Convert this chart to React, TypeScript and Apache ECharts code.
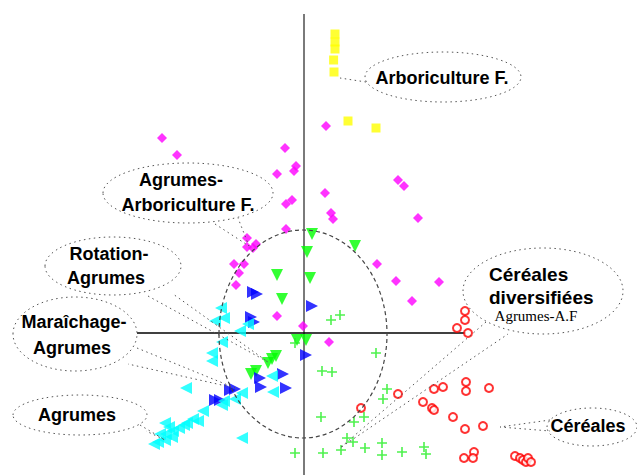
import React, { useEffect, useRef } from "react";
import * as echarts from "echarts";

// ---- data (x, y in factorial-plane units; origin = axes crossing) ----
const arboriculture: number[][] = [
  [1.55, 14.95], [1.55, 14.55], [1.55, 14.2], [1.48, 13.65], [1.5, 13.05], [2.2, 10.6], [3.6, 10.25],
];
const agrumesArbo: number[][] = [
  [-7.1, 9.75], [-6.35, 8.9], [-0.95, 9.25], [-1.35, 7.95], [-0.4, 8.35], [-0.5, 8.1], [-0.6, 6.65],
  [-0.9, 6.45], [-0.9, 5.2], [-2.85, 4.75], [-2.85, 4.3], [-2.55, 4.25], [-2.4, 4.45], [1.1, 10.35],
  [1.05, 7.0], [1.35, 6.0], [1.45, 5.7], [4.7, 7.65], [5.0, 7.35], [5.7, 5.75], [-3.5, 3.45],
  [-3.0, 3.45], [-3.25, 3.0], [-3.4, 2.4], [-1.35, 0.85], [-0.05, 0.35], [3.65, 3.45], [4.6, 2.6],
  [6.75, 2.55], [5.4, 1.6], [1.25, -0.45],
];
const maraichage: number[][] = [
  [0.4, 4.95], [0.15, 4.05], [2.55, 4.35], [-1.35, 2.9], [0.3, 2.75], [-1.1, 1.7], [-0.35, -0.35],
  [0.1, -0.35], [-1.4, -1.15], [-1.6, -1.3], [-1.8, -1.5], [-2.4, -1.9], [-2.65, -2.05],
];
const cerealesDiv: number[][] = [
  [1.35, 0.65], [1.8, 0.9], [-0.45, -0.5], [3.6, -1.0], [0.9, -1.9], [1.4, -1.95], [4.15, -2.8],
  [3.95, -3.3], [0.85, -4.2], [2.5, -4.45], [3.0, -4.2], [2.15, -5.25], [2.45, -5.45], [-0.45, -6.0],
  [0.95, -6.0], [1.85, -5.85], [3.05, -5.75], [3.9, -5.5], [3.9, -6.1], [4.9, -5.95], [6.0, -5.7],
  [6.1, -6.05],
];
const cereales: number[][] = [
  [8.05, 1.1], [8.05, 0.65], [7.65, 0.25], [8.2, 0.0], [4.7, -3.05], [2.85, -3.75], [6.5, -2.8],
  [6.95, -2.7], [8.1, -2.45], [8.1, -2.9], [9.25, -2.75], [5.95, -3.45], [6.4, -3.75], [6.5, -3.85],
  [7.45, -4.2], [8.05, -4.8], [8.95, -4.65], [8.0, -6.25], [8.5, -5.95], [8.45, -6.25], [10.55, -6.15],
  [10.8, -6.25], [10.95, -6.35], [11.1, -6.45], [11.2, -6.25], [11.35, -6.45],
];
const rotation: number[][] = [
  [-2.55, 2.05], [-2.35, 1.95], [0.4, 1.35], [-2.65, 0.8], [-2.5, 0.55], [0.1, -1.1], [-3.7, -2.85],
  [-3.45, -2.8], [-4.45, -3.35], [-4.2, -3.35], [-2.2, -2.25], [-2.15, -2.7], [-1.05, -2.05], [-0.9, -2.75],
];
const agrumes: number[][] = [
  [-4.15, 1.25], [-4.0, 0.75], [-4.45, 0.6], [-3.2, 0.1], [-2.8, 0.45], [-4.1, -0.45], [-4.6, -1.0],
  [-4.6, -1.4], [-5.9, -2.75], [-3.1, -3.0], [-3.45, -3.3], [-4.1, -3.6], [-4.0, -3.4], [-5.05, -3.9],
  [-5.55, -4.3], [-5.3, -4.4], [-1.6, -2.15], [-1.55, -2.95], [-3.1, -5.25], [-6.95, -4.5],
  [-6.75, -4.7], [-7.2, -5.05], [-6.9, -5.05], [-6.55, -4.9], [-6.25, -4.75], [-6.0, -4.6],
  [-7.3, -5.45], [-6.95, -5.35], [-6.6, -5.2], [-7.5, -5.55], [-5.85, -4.5],
];
const hAxisLine: number[][] = [[-8.35, 0], [8.1, 0]];
const vAxisLine: number[][] = [[0, 15.95], [0, -7.1]];

const labelFont = 'bold 18px "Liberation Sans", Arial, sans-serif';
const PLUS = "path://M4.2,0H5.8V4.2H10V5.8H5.8V10H4.2V5.8H0V4.2H4.2Z";

export default function App() {
  const ref = useRef<HTMLDivElement>(null);
  useEffect(() => {
    if (!ref.current) return;
    const chart = echarts.init(ref.current, undefined, { renderer: "svg" });
    const dot = { fill: "none", stroke: "#555", lineWidth: 1, lineDash: [1.5, 3.5] };
    const txt = (x: number, y: number, text: string, font = labelFont, align = "center") => ({
      type: "text",
      x,
      y,
      z: 20,
      style: { text, font, fill: "#000", align, verticalAlign: "middle" },
    });
    const ell = (cx: number, cy: number, rx: number, ry: number) => ({
      type: "ellipse",
      z: 19,
      shape: { cx, cy, rx, ry },
      style: dot,
    });
    const tail = (points: number[][]) => ({
      type: "polyline",
      z: 19,
      shape: { points },
      style: dot,
    });
    chart.setOption({
      animation: false,
      backgroundColor: "#fff",
      grid: { left: 4, top: 13, width: 620, height: 462 },
      xAxis: {
        type: "value", min: -15, max: 16,
        axisLine: { show: false }, axisTick: { show: false }, axisLabel: { show: false }, splitLine: { show: false },
      },
      yAxis: {
        type: "value", min: -7.1, max: 16,
        axisLine: { show: false }, axisTick: { show: false }, axisLabel: { show: false }, splitLine: { show: false },
      },
      series: [
        { type: "line", data: vAxisLine, symbol: "none", silent: true, z: 1, lineStyle: { color: "#7a7a7a", width: 2 } },
        { type: "line", data: hAxisLine, symbol: "none", silent: true, z: 1, lineStyle: { color: "#000", width: 1.6 } },
        { name: "Arboriculture F.", type: "scatter", data: arboriculture, symbol: "rect", symbolSize: 9, itemStyle: { color: "#FFFF00" } },
        { name: "Agrumes-Arboriculture F.", type: "scatter", data: agrumesArbo, symbol: "diamond", symbolSize: 10, itemStyle: { color: "#FF00FF" } },
        { name: "Maraîchage-Agrumes", type: "scatter", data: maraichage, symbol: "triangle", symbolRotate: 180, symbolSize: 12, itemStyle: { color: "#00FF00" } },
        { name: "Céréales diversifiées", type: "scatter", data: cerealesDiv, symbol: PLUS, symbolSize: 10, itemStyle: { color: "#22EE22" } },
        { name: "Céréales", type: "scatter", data: cereales, symbol: "emptyCircle", symbolSize: 8, itemStyle: { color: "#FF0000", borderColor: "#FF0000", borderWidth: 1.5 } },
        { name: "Rotation-Agrumes", type: "scatter", data: rotation, symbol: "triangle", symbolRotate: -90, symbolSize: 12, itemStyle: { color: "#0000FF" } },
        { name: "Agrumes", type: "scatter", data: agrumes, symbol: "triangle", symbolRotate: 90, symbolSize: 12, itemStyle: { color: "#00FFFF" } },
      ],
      graphic: [
        { type: "ellipse", z: 18, shape: { cx: 303, cy: 334, rx: 84, ry: 104 }, style: { fill: "none", stroke: "#444", lineWidth: 1.2, lineDash: [4, 3] } },
        ell(443, 77, 78, 25), tail([[366, 82], [340, 78]]), txt(442, 78, "Arboriculture F."),
        ell(188, 193, 85, 30), tail([[215, 224], [249, 246], [238, 218]]),
        txt(181, 180, "Agrumes-"), txt(188, 205, "Arboriculture F."),
        ell(113, 266, 68, 29), tail([[148, 296], [268, 362], [173, 294]]),
        txt(109, 254, "Rotation-"), txt(106, 278, "Agrumes"),
        ell(75, 334, 62, 37), tail([[137, 348], [235, 388], [128, 364]]),
        txt(74, 322, "Maraîchage-"), txt(72, 348, "Agrumes"),
        ell(80, 415, 67, 20), tail([[140, 425], [165, 440], [146, 431]]),
        txt(77, 415, "Agrumes"),
        ell(543, 291, 80, 43), tail([[486, 322], [340, 448], [508, 334]]),
        txt(489, 274, "Céréales", 'bold 19px "Liberation Sans", Arial, sans-serif', "left"),
        txt(489, 297, "diversifiées", 'bold 19px "Liberation Sans", Arial, sans-serif', "left"),
        txt(536, 316, "Agrumes-A.F", '15px "Liberation Serif", "Times New Roman", serif'),
        ell(592, 427, 45, 19), tail([[550, 420], [500, 427], [550, 431]]),
        txt(588, 426, "Céréales"),
      ],
    });
    return () => chart.dispose();
  }, []);
  return (
    <div
      ref={ref}
      style={{ position: "fixed", left: 0, top: 0, width: 637, height: 475, background: "#fff" }}
    />
  );
}
